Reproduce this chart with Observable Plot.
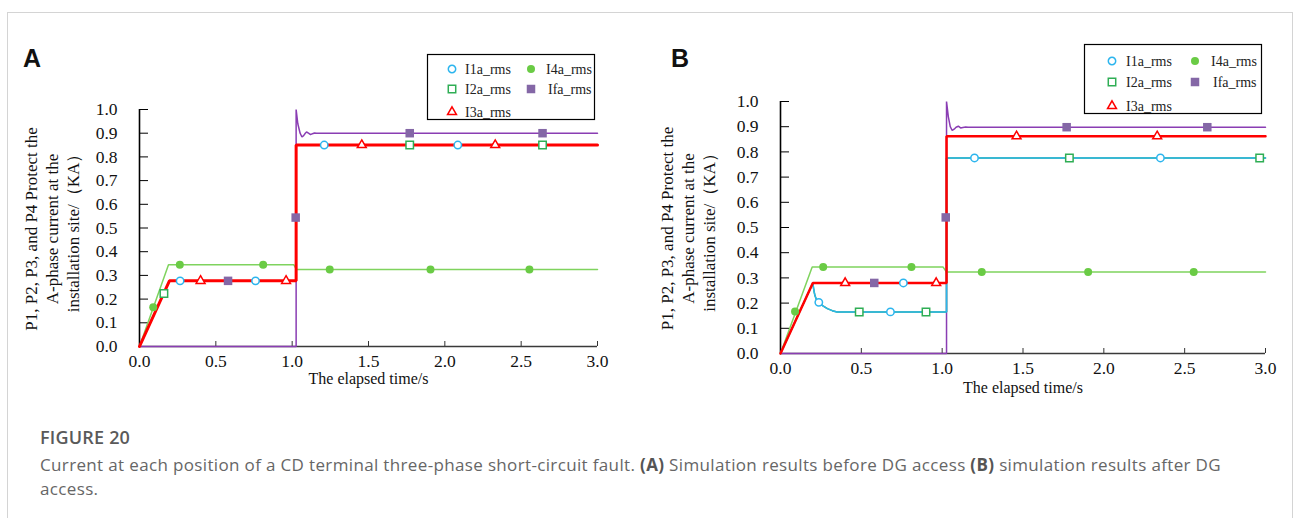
<!DOCTYPE html>
<html><head><meta charset="utf-8">
<script src="https://cdn.jsdelivr.net/npm/d3@7"></script>
<script src="https://cdn.jsdelivr.net/npm/@observablehq/plot@0.6"></script>
<style>
html,body{margin:0;padding:0;background:#fff;}
body{width:1293px;height:518px;overflow:hidden;position:relative;}
#frame{position:absolute;left:7px;top:12px;width:1284px;height:540px;border:1px solid #d4d4d4;border-bottom:none;}
.abs{position:absolute;}
.letter{font-family:"Liberation Sans",Arial,sans-serif;font-weight:bold;font-size:25px;color:#111;}
#fig{left:40px;top:426px;font-family:"Open Sans",sans-serif;font-weight:600;font-size:18px;line-height:22px;color:#5a5a5a;letter-spacing:0.2px;}
#cap{left:40px;top:453px;font-family:"Open Sans",sans-serif;font-size:17px;line-height:24px;color:#666;white-space:nowrap;letter-spacing:0.35px;}
#cap b{font-weight:700;color:#555;}
</style></head>
<body>
<div id="frame"></div>
<div class="abs letter" style="left:23px;top:44px;">A</div>
<div class="abs letter" style="left:671px;top:44px;">B</div>
<div id="plotA" class="abs" style="left:0;top:0;"></div>
<div id="plotB" class="abs" style="left:640px;top:0;"></div>
<div id="fig" class="abs">FIGURE 20</div>
<div id="cap" class="abs">Current at each position of a CD terminal three-phase short-circuit fault. <b>(A)</b> Simulation results before DG access <b>(B)</b> simulation results after DG<br>access.</div>
<script>
// ---------- data ----------
const seriesNames = ["I1a_rms", "I2a_rms", "I3a_rms", "I4a_rms", "Ifa_rms"];
const xTicks = [0, 0.5, 1.0, 1.5, 2.0, 2.5, 3.0];
const yTicks = [0, 0.1, 0.2, 0.3, 0.4, 0.5, 0.6, 0.7, 0.8, 0.9, 1.0];
const xLabel = "The elapsed time/s";
const yLabel = "P1, P2, P3, and P4 Protect the\nA-phase current at the\ninstallation site/（KA）";

// Panel A lines [time, value]
const lineA_I123 = [[0,0],[0.196,0.277],[1.026,0.277],[1.026,0.85],[3,0.85]];
const lineA_I4a = [[0,0],[0.19,0.345],[1.01,0.345],[1.028,0.325],[3,0.325]];
const lineA_Ifa = [[0,0],[1.026,0],[1.026,1.0],[1.037,0.94],[1.052,0.9],[1.064,0.884],[1.075,0.89],[1.086,0.9],[1.094,0.905],[1.107,0.9],[1.12,0.894],[1.133,0.898],[1.146,0.901],[1.16,0.9],[3,0.9]];
// Panel A markers
const mkA_I1a = [[0.266,0.277],[0.76,0.277],[1.21,0.85],[2.085,0.85]];
const mkA_I2a = [[0.16,0.224],[1.77,0.85],[2.64,0.85]];
const mkA_I3a = [[0.40,0.277],[0.96,0.277],[1.456,0.85],[2.33,0.85]];
const mkA_I4a = [[0.09,0.166],[0.264,0.345],[0.81,0.345],[1.246,0.325],[1.906,0.325],[2.554,0.325]];
const mkA_Ifa = [[0.58,0.277],[1.023,0.544],[1.77,0.9],[2.64,0.9]];

// Panel B lines
const lineB_I3a = [[0,0],[0.2,0.28],[1.027,0.28],[1.027,0.862],[3,0.862]];
const lineB_I12 = [[0,0],[0.2,0.28],[0.206,0.252],[0.213,0.23],[0.222,0.214],[0.237,0.203],[0.26,0.19],[0.29,0.178],[0.32,0.17],[0.35,0.165],[1.027,0.165],[1.027,0.776],[3,0.776]];
const lineB_I4a = [[0,0],[0.196,0.343],[1.006,0.343],[1.027,0.323],[3,0.323]];
const lineB_Ifa = [[0,0],[1.027,0],[1.027,1.0],[1.038,0.94],[1.05,0.9],[1.062,0.885],[1.074,0.89],[1.086,0.898],[1.1,0.902],[1.114,0.895],[1.128,0.897],[1.145,0.899],[1.16,0.898],[3,0.898]];
// Panel B markers
const mkB_I1a = [[0.237,0.203],[0.68,0.165],[0.76,0.28],[1.2,0.776],[2.35,0.776]];
const mkB_I2a = [[0.487,0.165],[0.9,0.165],[1.787,0.776],[2.964,0.776]];
const mkB_I3a = [[0.40,0.28],[0.963,0.28],[1.46,0.862],[2.33,0.862]];
const mkB_I4a = [[0.09,0.167],[0.264,0.343],[0.81,0.343],[1.245,0.323],[1.903,0.323],[2.556,0.323]];
const mkB_Ifa = [[0.58,0.28],[1.022,0.54],[1.77,0.898],[2.64,0.898]];

// ---------- styles ----------
const C = {
  I1a: "#2cb5ee", I2a: "#2fae55", I3a: "#ff0000",
  I4aLine: "#7fd35e", I4a: "#6acb45",
  IfaLine: "#8a3db3", Ifa: "#8467a6"
};
const serif = "'Liberation Serif','Times New Roman',serif";
const R = {circle: 3.7, square: 4.2, triangle: 3.3, dot: 4.0, sq: 4.8};

function markerMarks(mk) {
  const X = d => d[0], Y = d => d[1];
  return [
    Plot.dot(mk.I4a, {x: X, y: Y, r: R.dot, fill: C.I4a, stroke: "none"}),
    Plot.dot(mk.Ifa, {x: X, y: Y, r: R.sq, symbol: "square", fill: C.Ifa, stroke: "none"}),
    Plot.dot(mk.I1a, {x: X, y: Y, r: R.circle, fill: "white", stroke: C.I1a, strokeWidth: 1.5}),
    Plot.dot(mk.I2a, {x: X, y: Y, r: R.square, symbol: "square", fill: "white", stroke: C.I2a, strokeWidth: 1.5}),
    Plot.dot(mk.I3a, {x: X, y: Y, r: R.triangle, symbol: "triangle", fill: "white", stroke: C.I3a, strokeWidth: 1.5})
  ];
}

function makePlot(o) {
  const X = d => d[0], Y = d => d[1];
  return Plot.plot({
    width: o.width, height: o.height,
    marginLeft: o.ml, marginRight: o.mr, marginTop: o.mt, marginBottom: o.mb,
    x: {domain: [0, 3]},
    y: {domain: [0, 1]},
    style: {fontFamily: serif, fontSize: "17px", background: "transparent", overflow: "visible", color: "#111"},
    marks: [
      Plot.axisX({ticks: xTicks, tickFormat: d3.format(".1f"), tickSize: -5, tickPadding: 13, label: null, stroke: "#333", fontSize: 17.5}),
      Plot.axisY({ticks: yTicks, tickFormat: d3.format(".1f"), tickSize: -9, tickPadding: 31, label: null, stroke: "#000", fontSize: 17.5}),
      Plot.ruleY([0], {stroke: "#3a3a3a", strokeWidth: 1.6}),
      Plot.ruleX([0], {stroke: "#000", strokeWidth: 1.6}),
      ...o.lines.map(l => Plot.line(l.data, {x: X, y: Y, stroke: l.color, strokeWidth: l.w, strokeLinejoin: "miter"})),
      ...markerMarks(o.mk),
      Plot.text([xLabel], {frameAnchor: "bottom", dy: o.xdy, fontSize: 16, fill: "#111"}),
      Plot.text([yLabel], {frameAnchor: "left", textAnchor: "middle", lineAnchor: "middle", rotate: -90, dx: o.ydx, dy: 1, lineHeight: 1.24, fontSize: 17, fill: "#111"})
    ]
  });
}

const plotA = makePlot({
  width: 640, height: 420, ml: 139, mr: 43, mt: 109, mb: 74, xdy: 37, ydx: -88,
  lines: [
    {data: lineA_I123, color: C.I2a, w: 1.5},
    {data: lineA_I123, color: C.I1a, w: 1.5},
    {data: lineA_I4a, color: C.I4aLine, w: 1.5},
    {data: lineA_Ifa, color: C.IfaLine, w: 1.5},
    {data: lineA_I123, color: C.I3a, w: 3}
  ],
  mk: {I1a: mkA_I1a, I2a: mkA_I2a, I3a: mkA_I3a, I4a: mkA_I4a, Ifa: mkA_Ifa}
});
document.getElementById("plotA").appendChild(plotA);

const plotB = makePlot({
  width: 653, height: 420, ml: 140, mr: 28, mt: 101, mb: 67, xdy: 39, ydx: -93,
  lines: [
    {data: lineB_I4a, color: C.I4aLine, w: 1.5},
    {data: lineB_Ifa, color: C.IfaLine, w: 1.5},
    {data: lineB_I12, color: C.I2a, w: 1.5},
    {data: lineB_I12, color: C.I1a, w: 1.5},
    {data: lineB_I3a, color: C.I3a, w: 2.5}
  ],
  mk: {I1a: mkB_I1a, I2a: mkB_I2a, I3a: mkB_I3a, I4a: mkB_I4a, Ifa: mkB_Ifa}
});
document.getElementById("plotB").appendChild(plotB);

// ---------- legends ----------
function legend(left, top, w, h, sx1, tx1, sx2, tx2, rows) {
  const svg = d3.select("body").append("svg")
    .attr("class", "abs").attr("width", w + 2).attr("height", h + 2)
    .style("left", (left - 1) + "px").style("top", (top - 1) + "px").style("position", "absolute");
  const g = svg.append("g").attr("transform", "translate(1,1)");
  g.append("rect").attr("x", 0.5).attr("y", 0.5).attr("width", w - 1).attr("height", h - 1)
    .attr("fill", "white").attr("stroke", "#000").attr("stroke-width", 1.2);
  const sym = (type, r) => d3.symbol(type, Math.PI * r * r)();
  const items = [
    {name: seriesNames[0], sx: sx1, tx: tx1, y: rows[0], d: sym(d3.symbolCircle, R.circle), fill: "white", stroke: C.I1a},
    {name: seriesNames[1], sx: sx1, tx: tx1, y: rows[1], d: sym(d3.symbolSquare, R.square), fill: "white", stroke: C.I2a},
    {name: seriesNames[2], sx: sx1, tx: tx1, y: rows[2], d: sym(d3.symbolTriangle, R.triangle), fill: "white", stroke: C.I3a},
    {name: seriesNames[3], sx: sx2, tx: tx2, y: rows[0], d: sym(d3.symbolCircle, R.dot), fill: C.I4a, stroke: "none"},
    {name: seriesNames[4], sx: sx2, tx: tx2 + 2, y: rows[1], d: sym(d3.symbolSquare, R.sq), fill: C.Ifa, stroke: "none"}
  ];
  for (const it of items) {
    g.append("path").attr("d", it.d).attr("transform", `translate(${it.sx},${it.y})`)
      .attr("fill", it.fill).attr("stroke", it.stroke).attr("stroke-width", 1.5);
    g.append("text").attr("x", it.tx).attr("y", it.y).attr("dy", "0.35em")
      .attr("font-family", serif).attr("font-size", 14).attr("fill", "#222").text(it.name);
  }
}
legend(427, 54, 168, 66, 25, 38, 104, 119, [15, 35, 58]);
legend(1084, 44, 178, 70, 28, 42, 111, 127, [17, 38, 62]);
</script>
</body></html>
